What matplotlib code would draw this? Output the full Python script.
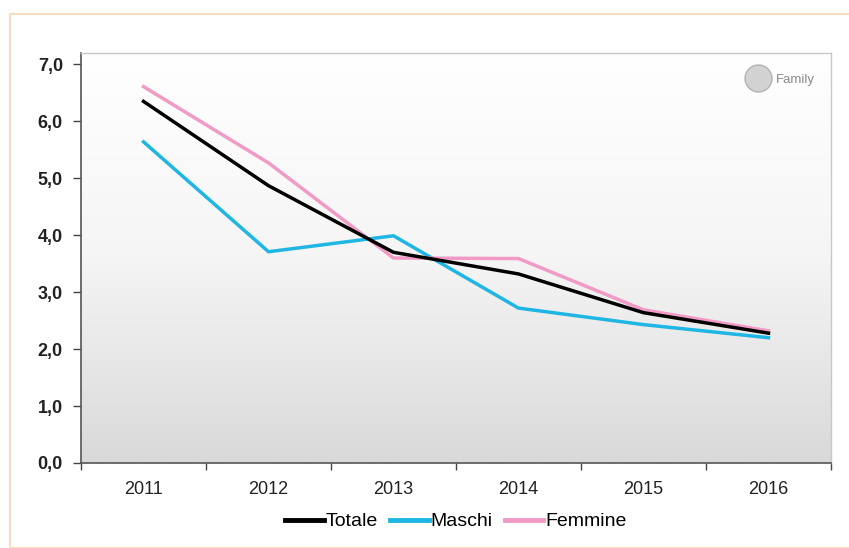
import numpy as np
import matplotlib
matplotlib.use("Agg")
import matplotlib.pyplot as plt
from matplotlib.patches import Rectangle
from matplotlib.ticker import FuncFormatter, FixedLocator

plt.rcParams['font.family'] = ['Liberation Sans', 'DejaVu Sans']

# data
anni = ['2011', '2012', '2013', '2014', '2015', '2016']
totale = [6.35, 4.87, 3.70, 3.32, 2.64, 2.28]
maschi = [5.64, 3.71, 3.99, 2.72, 2.43, 2.20]
femmine = [6.61, 5.27, 3.60, 3.59, 2.69, 2.32]

fig = plt.figure(figsize=(8.49, 5.48), dpi=100)
fig.patch.set_facecolor('white')

# outer frame of the chart area
fig.patches.append(Rectangle((10 / 849, 0.0), 1.2, 1 - 14 / 548, transform=fig.transFigure,
                             fill=False, edgecolor='#f6dcc0', linewidth=1.5))

ax = fig.add_axes([81 / 849, 1 - 463 / 548, 750 / 849, 410 / 548])
x = np.arange(len(anni))

# background gradient: white at top, light gray at bottom
grad = np.linspace(0, 1, 256).reshape(-1, 1)
cmap = matplotlib.colors.LinearSegmentedColormap.from_list('bg', ['#ffffff', '#f5f5f5', '#d9d9d9'])
ax.imshow(grad, aspect='auto', cmap=cmap, extent=[0, 1, 0, 1], transform=ax.transAxes, zorder=0)

ax.plot(x, totale, color='#000000', lw=2.5, label='Totale', zorder=3)
ax.plot(x, maschi, color='#1fb6e3', lw=2.5, label='Maschi', zorder=2)
ax.plot(x, femmine, color='#f29ac6', lw=2.5, label='Femmine', zorder=2)

ax.set_xlim(-0.5, len(anni) - 0.5)
ax.set_ylim(0, 7.2)
ax.set_yticks(np.arange(0, 7.01, 1.0))
ax.yaxis.set_major_formatter(FuncFormatter(lambda v, p: f'{v:.1f}'.replace('.', ',')))
ax.set_xticks(x)
ax.set_xticklabels(anni)
ax.xaxis.set_minor_locator(FixedLocator(np.arange(-0.5, len(anni), 1.0)))
ax.tick_params(axis='x', which='major', length=0, pad=13, labelsize=13, colors='#222222')
ax.tick_params(axis='x', which='minor', length=5, width=1, color='#444444', direction='out')
ax.tick_params(axis='y', length=6, width=1, color='#444444', labelsize=13, pad=7)
for lab in ax.get_yticklabels():
    lab.set_fontweight('bold')
    lab.set_color('#222222')

for side in ['left', 'bottom']:
    ax.spines[side].set_color('#555555')
    ax.spines[side].set_linewidth(1.2)
for side in ['top', 'right']:
    ax.spines[side].set_color('#c8c8c8')
    ax.spines[side].set_linewidth(1.0)

# watermark
ax.scatter([0.902], [0.94], s=380, transform=ax.transAxes, facecolor='#b0b0b0',
           edgecolor='#8a8a8a', alpha=0.55, zorder=4)
ax.text(0.927, 0.935, 'Family', transform=ax.transAxes, ha='left', va='center',
        fontsize=9.5, color='#8a8a8a', zorder=4)

leg = fig.legend(loc='lower center', bbox_to_anchor=(456 / 849, 0.0), ncol=3, frameon=False,
                 fontsize=14, handlelength=2.0, handletextpad=0.1, columnspacing=0.6)
for line in leg.get_lines():
    line.set_linewidth(3.5)

fig.savefig('out.png', dpi=100)
